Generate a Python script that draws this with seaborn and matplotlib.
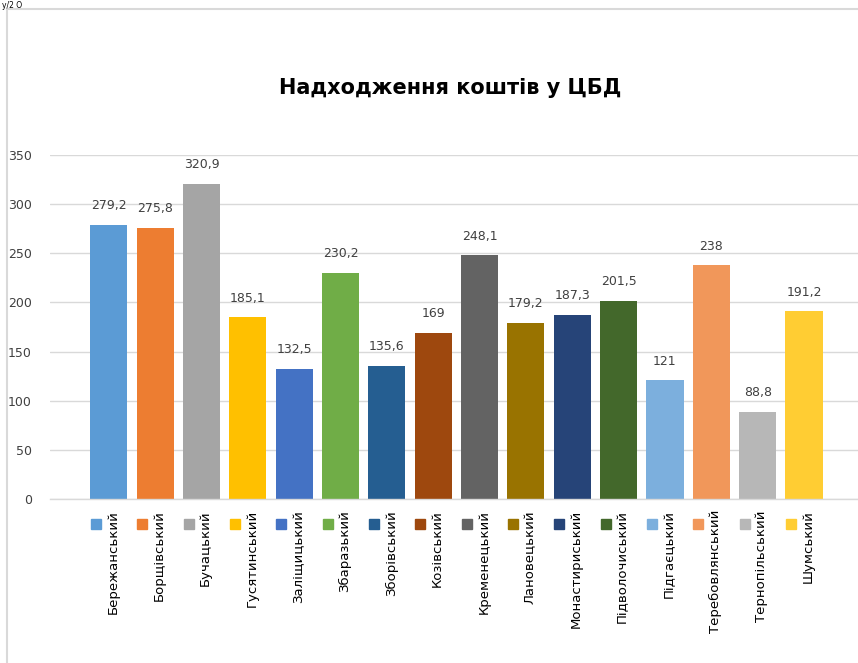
import matplotlib
matplotlib.use("Agg")
import matplotlib.pyplot as plt
import matplotlib.transforms as mtransforms
from matplotlib.lines import Line2D
import seaborn as sns
import pandas as pd

districts = ["Бережанський", "Борщівський", "Бучацький", "Гусятинський", "Заліщицький",
             "Збаразький", "Зборівський", "Козівський", "Кременецький", "Лановецький",
             "Монастириський", "Підволочиський", "Підгаєцький", "Теребовлянський",
             "Тернопільський", "Шумський"]
values = [279.2, 275.8, 320.9, 185.1, 132.5, 230.2, 135.6, 169, 248.1, 179.2,
          187.3, 201.5, 121, 238, 88.8, 191.2]
value_labels = ["279,2", "275,8", "320,9", "185,1", "132,5", "230,2", "135,6", "169",
                "248,1", "179,2", "187,3", "201,5", "121", "238", "88,8", "191,2"]
colors = ["#5B9BD5", "#ED7D31", "#A5A5A5", "#FFC000", "#4472C4", "#70AD47", "#255E91",
          "#9E480E", "#636363", "#997300", "#264478", "#43682B", "#7CAFDD", "#F1975A",
          "#B7B7B7", "#FFCD33"]
title = "Надходження коштів у ЦБД"
y_ticks = [0, 50, 100, 150, 200, 250, 300, 350]

sns.set_theme(style="white")
plt.rcParams['font.family'] = ['DejaVu Sans']

W, H = 858, 663
fig = plt.figure(figsize=(W / 100, H / 100), dpi=100)
ax = fig.add_axes([50 / W, (H - 499) / H, (W - 50) / W + 0.01, (499 - 155) / H])

df = pd.DataFrame({"district": districts, "value": values})
sns.barplot(data=df, x="district", y="value", hue="district", palette=colors,
            dodge=False, legend=False, width=0.8, ax=ax, saturation=1, linewidth=0)

ax.set_xlim(-1.27, 16.35)
ax.set_ylim(0, 350)
ax.set_yticks(y_ticks)
ax.set_yticklabels([str(t) for t in y_ticks], fontsize=9, color="#404040")
ax.tick_params(axis="y", length=0, pad=13)
ax.set_xticks([])
ax.set_xlabel("")
ax.set_ylabel("")
ax.yaxis.grid(True, color="#D9D9D9", linewidth=1)
ax.set_axisbelow(True)
for s in ["top", "right", "left"]:
    ax.spines[s].set_visible(False)
ax.spines["bottom"].set_color("#D9D9D9")
ax.spines["bottom"].set_linewidth(1)

for i, (v, lab) in enumerate(zip(values, value_labels)):
    ax.annotate(lab, (i, v), xytext=(0, 9), textcoords="offset points",
                ha="center", va="bottom", fontsize=9, color="#404040")

trans = mtransforms.blended_transform_factory(ax.transData, fig.transFigure)
for i, (name, c) in enumerate(zip(districts, colors)):
    ax.plot([i - 0.28], [(H - 524) / H], marker="s", markersize=6.5, color=c,
            transform=trans, clip_on=False, linestyle="none")
    ax.text(i + 0.09, (H - 510) / H, name, rotation=90, ha="center", va="top",
            fontsize=9.5, color="#000000", transform=trans, clip_on=False)

fig.text(450 / W, 1 - 88 / H, title, ha="center", va="center", fontsize=15,
         fontweight="bold", color="#000000")

# small text fragment at the very top-left
fig.text(2 / W, 1 - 1 / H, "у/2 О", ha="left", va="top", fontsize=5.5, color="#000000")

# chart frame
fig.add_artist(Line2D([7 / W, 7 / W], [0, 1 - 9 / H], transform=fig.transFigure,
                      color="#D9D9D9", linewidth=1.5))
fig.add_artist(Line2D([7 / W, 1], [1 - 9 / H, 1 - 9 / H], transform=fig.transFigure,
                      color="#D9D9D9", linewidth=1.5))

fig.savefig("out.png", dpi=100, facecolor="white")
